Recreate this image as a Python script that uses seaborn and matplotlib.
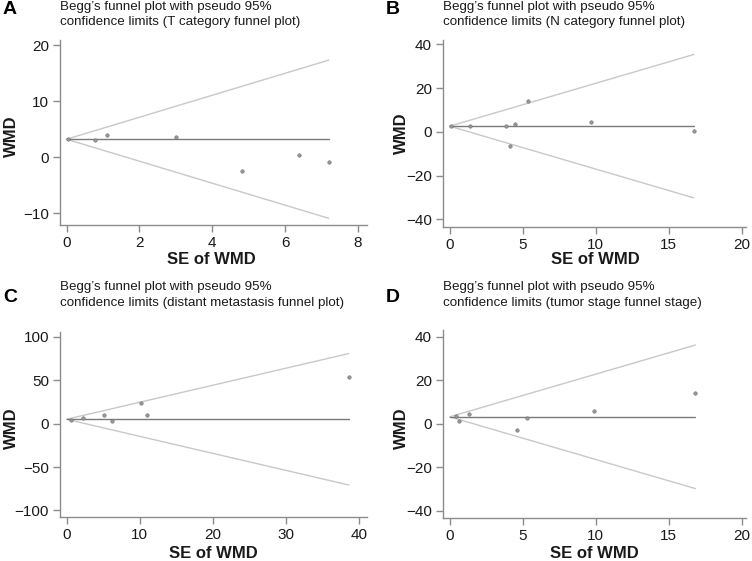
import numpy as np
import pandas as pd
import matplotlib
matplotlib.use("Agg")
import matplotlib.pyplot as plt
import seaborn as sns

sns.set_theme(style="white")
plt.rcParams['font.family'] = ['Liberation Sans', 'DejaVu Sans']

# ---- data ----
panel_letters = ["A", "B", "C", "D"]
panel_titles = [
    "Begg\u2019s funnel plot with pseudo 95%\nconfidence limits (T category funnel plot)",
    "Begg\u2019s funnel plot with pseudo 95%\nconfidence limits (N category funnel plot)",
    "Begg\u2019s funnel plot with pseudo 95%\nconfidence limits (distant metastasis funnel plot)",
    "Begg\u2019s funnel plot with pseudo 95%\nconfidence limits (tumor stage funnel stage)",
]
se_A = [0.05, 0.78, 1.12, 3.0, 4.82, 6.37, 7.2]
wmd_A = [3.2, 3.1, 3.9, 3.6, -2.4, 0.4, -0.9]
pooled_A = 3.2
se_B = [0.11, 1.41, 3.88, 4.15, 4.47, 5.36, 9.65, 16.72]
wmd_B = [2.6, 2.9, 2.6, -6.4, 3.7, 13.9, 4.7, 0.3]
pooled_B = 2.6
se_C = [0.59, 2.24, 5.17, 6.22, 10.2, 11.0, 38.6]
wmd_C = [4.6, 6.9, 9.6, 3.4, 24.1, 9.6, 53.5]
pooled_C = 5.0
se_D = [0.41, 0.64, 1.32, 4.63, 5.31, 9.92, 16.83]
wmd_D = [3.4, 1.2, 4.3, -3.1, 2.6, 5.8, 13.9]
pooled_D = 3.1

xticks_A = [0, 2, 4, 6, 8]
yticks_A = [-10, 0, 10, 20]
xticks_B = [0, 5, 10, 15, 20]
yticks_B = [-40, -20, 0, 20, 40]
xticks_C = [0, 10, 20, 30, 40]
yticks_C = [-100, -50, 0, 50, 100]
xticks_D = [0, 5, 10, 15, 20]
yticks_D = [-40, -20, 0, 20, 40]

panels = [
    dict(se=se_A, wmd=wmd_A, pooled=pooled_A, xt=xticks_A, yt=yticks_A,
         xlim=(-0.18, 8.25), ylim=(-12.1, 20.9)),
    dict(se=se_B, wmd=wmd_B, pooled=pooled_B, xt=xticks_B, yt=yticks_B,
         xlim=(-0.46, 20.3), ylim=(-43.5, 42)),
    dict(se=se_C, wmd=wmd_C, pooled=pooled_C, xt=xticks_C, yt=yticks_C,
         xlim=(-0.9, 41.1), ylim=(-107.5, 105.5)),
    dict(se=se_D, wmd=wmd_D, pooled=pooled_D, xt=xticks_D, yt=yticks_D,
         xlim=(-0.46, 20.3), ylim=(-43.4, 43)),
]

W, H = 752, 561
fig = plt.figure(figsize=(W / 100, H / 100), dpi=100)

# axes boxes in pixels: left, top, right, bottom
boxes = [(60, 40, 367, 225), (443, 40, 746, 227), (60, 332, 367, 517), (443, 330, 746, 518)]
letter_pos = [(3, 9), (386, 9), (3, 297), (386, 297)]
title_x = [60, 443, 60, 443]
title_base = [(10, 25), (10, 25), (290, 306), (290, 306)]
ylab_pos = [(11, 136), (401, 133), (11, 428), (401, 428)]
xlab_pos = [(211, 260), (595, 260), (213, 553), (594, 553)]

spine_col = "#8c8c8c"
for i, p in enumerate(panels):
    l, t, r, b = boxes[i]
    ax = fig.add_axes([l / W, 1 - b / H, (r - l) / W, (b - t) / H])
    se = np.array(p["se"])
    df = pd.DataFrame({"se": se, "wmd": p["wmd"]})
    semax = se.max()
    line_df = pd.DataFrame({
        "se": [0, semax, 0, semax, 0, semax],
        "y": [p["pooled"], p["pooled"] + 1.96 * semax,
              p["pooled"], p["pooled"] - 1.96 * semax,
              p["pooled"], p["pooled"]],
        "kind": ["up", "up", "lo", "lo", "mid", "mid"],
    })
    sns.lineplot(data=line_df, x="se", y="y", hue="kind",
                 palette={"up": "#c8c8c8", "lo": "#c8c8c8", "mid": "#7a7a7a"},
                 ax=ax, legend=False, linewidth=1.0, sort=False, estimator=None)
    sns.scatterplot(data=df, x="se", y="wmd", ax=ax, s=6, color="#9a9a9a",
                    edgecolor="#777777", linewidth=0.5, zorder=3)
    ax.set_xlim(*p["xlim"])
    ax.set_ylim(*p["ylim"])
    ax.set_xticks(p["xt"])
    ax.set_yticks(p["yt"])
    ax.set_yticklabels([str(v).replace("-", "\u2212") for v in p["yt"]])
    ax.set_xlabel("")
    ax.set_ylabel("")
    for s in ["top", "right"]:
        ax.spines[s].set_visible(False)
    for s in ["left", "bottom"]:
        ax.spines[s].set_color(spine_col)
        ax.spines[s].set_linewidth(1.0)
    ax.tick_params(axis="both", which="both", direction="out", length=5,
                   width=1.0, color=spine_col, labelsize=11, pad=3,
                   labelcolor="#1a1a1a", left=True, bottom=True)

    fig.text(letter_pos[i][0] / W, 1 - letter_pos[i][1] / H, panel_letters[i],
             fontsize=14, fontweight="bold", va="center", ha="left", color="black")
    for line, yb in zip(panel_titles[i].split("\n"), title_base[i]):
        fig.text(title_x[i] / W, 1 - yb / H, line,
                 fontsize=9.6, va="baseline", ha="left", color="#1a1a1a")
    fig.text(ylab_pos[i][0] / W, 1 - ylab_pos[i][1] / H, "WMD", rotation=90,
             fontsize=12, fontweight="bold", va="center", ha="center", color="#1a1a1a")
    fig.text(xlab_pos[i][0] / W, 1 - xlab_pos[i][1] / H, "SE of WMD",
             fontsize=12, fontweight="bold", va="center", ha="center", color="#1a1a1a")

fig.savefig("out.png", dpi=100)
